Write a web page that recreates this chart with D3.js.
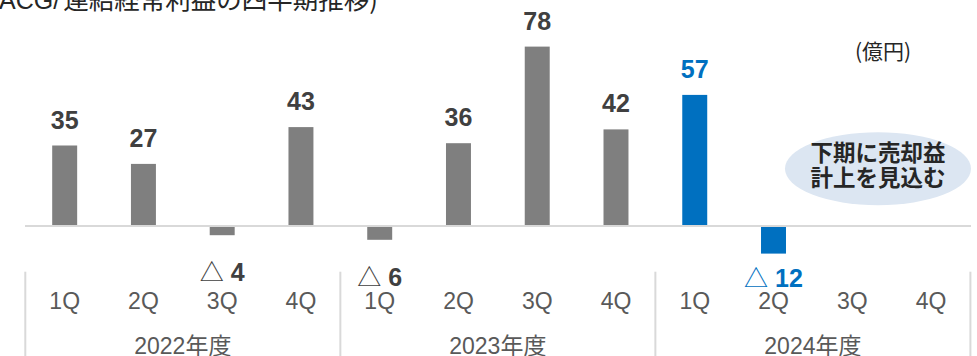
<!DOCTYPE html>
<html><head><meta charset="utf-8">
<script src="https://cdn.jsdelivr.net/npm/d3@7"></script>
<style>
html,body{margin:0;padding:0;background:#fff;}
svg{display:block;}
</style></head>
<body>
<svg id="chart" width="977" height="356"></svg>
<script>
const quarters = ["1Q","2Q","3Q","4Q","1Q","2Q","3Q","4Q","1Q","2Q","3Q","4Q"];
const fiscalYears = ["2022年度","2022年度","2022年度","2022年度","2023年度","2023年度","2023年度","2023年度","2024年度","2024年度","2024年度","2024年度"];
const yearLabels = ["2022年度","2023年度","2024年度"];
const profit = [35, 27, -4, 43, -6, 36, 78, 42, 57, -12, null, null];
const titleLatin = "(ACG/";
const titleRest = "連結経常利益の四半期推移)";
const unitLabel = "(億円)";
const noteLines = ["下期に売却益","計上を見込む"];
const currentYear = "2024年度";

const svg = d3.select("#chart");
const W = 977, H = 356;
const LATIN = "'Liberation Sans', Arial, 'Noto Sans CJK JP', sans-serif";
const CJK = "'Noto Sans CJK JP', 'Noto Sans', sans-serif";
const GRAY = "#7f7f7f", BLUE = "#0070c0", LABEL = "#404040", AXIS = "#595959", RULE = "#d9d9d9";

const idx = d3.range(quarters.length);
const x = d3.scaleBand().domain(idx).range([25.3, 970.4]).paddingInner(0.683).paddingOuter(0.683/2);
const y = d3.scaleLinear().domain([0, 78]).range([226, 46.6]);
const step = x.step();
const colorOf = i => fiscalYears[i] === currentYear ? BLUE : GRAY;

// title (clipped at top-left as in reference)
const tt = svg.append("text").attr("y", 9).attr("fill", "#262626");
tt.append("tspan").attr("font-family", LATIN).attr("font-size", 25).text(titleLatin);
tt.append("tspan").attr("font-family", CJK).attr("font-size", 25.5).attr("dx", 3).text(titleRest);
const probe = svg.append("text").attr("font-family", LATIN).attr("font-size", 25).text("(");
const parenW = probe.node().getComputedTextLength();
probe.remove();
tt.attr("x", -parenW - 1);

// unit
svg.append("text").attr("x", 883).attr("y", 50).attr("text-anchor", "middle")
  .attr("dominant-baseline", "central")
  .attr("font-family", CJK).attr("font-size", 21).attr("fill", "#262626").text(unitLabel);

// note ellipse
svg.append("ellipse").attr("cx", 878).attr("cy", 168.7).attr("rx", 93).attr("ry", 36.5).attr("fill", "#dce6f2");
const note = svg.append("text").attr("text-anchor", "middle")
  .attr("font-family", CJK).attr("font-weight", 700).attr("font-size", 22.5).attr("fill", "#262626");
note.selectAll("tspan").data(noteLines).join("tspan")
  .attr("x", 878).attr("y", (d, i) => 160.5 + i * 25.5)
  .text(d => d);

// bars
const barData = idx.filter(i => profit[i] !== null);
svg.append("g").selectAll("rect").data(barData).join("rect")
  .attr("x", i => x(i)).attr("width", x.bandwidth())
  .attr("y", i => Math.min(y(0), y(profit[i])))
  .attr("height", i => Math.abs(y(profit[i]) - y(0)))
  .attr("fill", i => colorOf(i));

// zero line
svg.append("line").attr("x1", x.range()[0] - 0.3).attr("x2", x.range()[1] + 0.6)
  .attr("y1", y(0)).attr("y2", y(0)).attr("stroke", RULE).attr("stroke-width", 2);

// value labels
const lab = svg.append("g").selectAll("text").data(barData).join("text")
  .attr("x", i => x(i) + x.bandwidth() / 2)
  .attr("y", i => profit[i] >= 0 ? y(profit[i]) - 17 : Math.min(y(profit[i]) + 46, 287))
  .attr("text-anchor", "middle")
  .attr("font-family", LATIN).attr("font-size", 25)
  .attr("fill", i => fiscalYears[i] === currentYear ? BLUE : LABEL);
lab.each(function(i) {
  const t = d3.select(this);
  const v = profit[i];
  if (v < 0) {
    t.append("tspan").attr("font-family", CJK).attr("font-weight", 400).attr("font-size", 24).text("△");
    t.append("tspan").attr("font-weight", 700).text(" " + Math.abs(v));
  } else {
    t.append("tspan").attr("font-weight", 700).text(v);
  }
});

// quarter axis
const axis = d3.axisBottom(x).tickSize(0).tickPadding(0).tickFormat(i => quarters[i]);
const ag = svg.append("g").call(axis);
ag.select(".domain").remove();
ag.selectAll("text").attr("y", 309).attr("dy", null)
  .attr("font-family", LATIN).attr("font-size", 23).attr("fill", AXIS);

// group separators and year labels
const groups = yearLabels.map(yl => {
  const members = idx.filter(i => fiscalYears[i] === yl);
  const start = x(members[0]) - x.paddingInner() * step / 2;
  const end = x(members[members.length - 1]) + x.bandwidth() + x.paddingInner() * step / 2;
  return { yl, start, end };
});
const seps = [groups[0].start, ...groups.map(g => g.end)];
svg.append("g").selectAll("line").data(seps).join("line")
  .attr("x1", d => d).attr("x2", d => d).attr("y1", 271.7).attr("y2", H)
  .attr("stroke", RULE).attr("stroke-width", 2);
svg.append("g").selectAll("text").data(groups).join("text")
  .attr("x", g => (g.start + g.end) / 2).attr("y", 354)
  .attr("text-anchor", "middle").attr("font-family", LATIN).attr("font-size", 23).attr("fill", AXIS)
  .text(g => g.yl);
</script>
</body></html>
